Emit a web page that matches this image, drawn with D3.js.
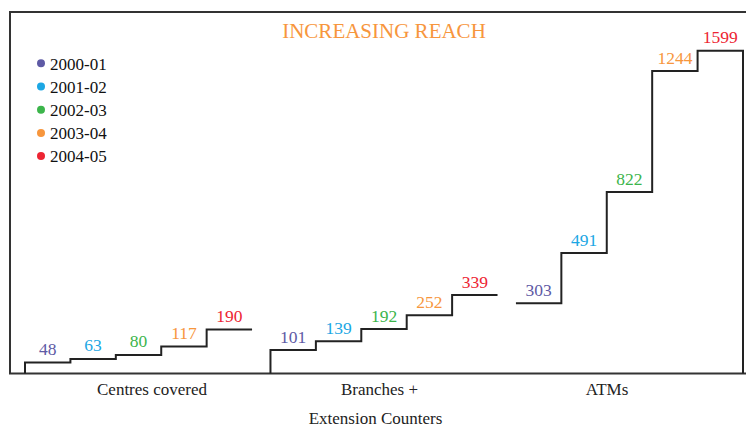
<!DOCTYPE html>
<html>
<head>
<meta charset="utf-8">
<script src="https://cdn.jsdelivr.net/npm/d3@7"></script>
<style>
  html, body { margin: 0; padding: 0; background: #fff; }
  svg { display: block; }
  text { font-family: "Liberation Serif", "DejaVu Serif", serif; }
</style>
</head>
<body>
<svg id="chart" width="746" height="427" font-family="Liberation Serif, DejaVu Serif, serif"></svg>
<script>
// ---- data ----
const title = "INCREASING REACH";
const years = ["2000-01", "2001-02", "2002-03", "2003-04", "2004-05"];
const categories = ["Centres covered", "Branches +|Extension Counters", "ATMs"];
const centres = [48, 63, 80, 117, 190];
const branches = [101, 139, 192, 252, 339];
const atms = [303, 491, 822, 1244, 1599];
const seriesByCategory = [centres, branches, atms];
// y-scale knots (the value axis is not uniform)
const yKnots = [0, 339, 491, 822, 1244, 1599];

// ---- styles ----
const yearColors = ["#5e5aa5", "#1ca7e4", "#3cb54b", "#f7963d", "#ed2533"];
const W = 746, H = 427;
const baseY = 373.5;

const svg = d3.select("#chart");

const yearColor = d3.scaleOrdinal().domain(years).range(yearColors);

const xGroup = d3.scaleBand().domain(categories).range([25, 743]).paddingInner(0.075);
const xStep = d3.scaleBand().domain(years).range([0, xGroup.bandwidth()]);
const y = d3.scaleLinear().domain(yKnots).range([baseY, 295, 253, 192, 71, 50.7]);
const xLabel = d3.scalePoint().domain(categories).range([152, 607]);

// frame
svg.append("path")
  .attr("d", `M${W},12 L10,12 L10,${baseY} L${W},${baseY}`)
  .attr("fill", "none")
  .attr("stroke", "#333")
  .attr("stroke-width", 2);

// title
svg.append("text")
  .attr("x", 384).attr("y", 38)
  .attr("text-anchor", "middle")
  .attr("font-size", 21)
  .attr("fill", "#f7963d")
  .text(title);

// legend
const leg = svg.append("g");
years.forEach((yr, i) => {
  const cy = 63.3 + i * 23.2;
  leg.append("circle").attr("cx", 41).attr("cy", cy).attr("r", 4).attr("fill", yearColor(yr));
  leg.append("text").attr("x", 50).attr("y", cy + 6.3)
    .attr("font-size", 17).attr("fill", "#111").text(yr);
});

// step lines
categories.forEach((cat, ci) => {
  const vals = seriesByCategory[ci];
  const x0 = xGroup(cat);
  const p = d3.path();
  const last = ci === categories.length - 1;
  if (!last) { p.moveTo(x0, baseY); p.lineTo(x0 + xStep(years[0]), y(vals[0])); }
  else { p.moveTo(x0 + xStep(years[0]), y(vals[0])); }
  years.forEach((yr, i) => {
    const xs = x0 + xStep(yr);
    if (i > 0) p.lineTo(xs, y(vals[i]));
    p.lineTo(xs + xStep.bandwidth(), y(vals[i]));
  });
  if (last) p.lineTo(x0 + xStep(years[years.length - 1]) + xStep.bandwidth(), baseY);
  svg.append("path").attr("d", p.toString())
    .attr("fill", "none").attr("stroke", "#222").attr("stroke-width", 2);

  // value labels
  svg.append("g").selectAll("text").data(vals).join("text")
    .attr("x", (d, i) => x0 + xStep(years[i]) + xStep.bandwidth() / 2)
    .attr("y", d => y(d) - 7.5)
    .attr("text-anchor", "middle")
    .attr("font-size", 17.5)
    .attr("fill", (d, i) => yearColor(years[i]))
    .text(d => d);

  // category labels
  const t = svg.append("text")
    .attr("x", xLabel(cat)).attr("y", 395)
    .attr("text-anchor", "middle")
    .attr("font-size", 17)
    .attr("fill", "#222");
  cat.split("|").forEach((line, li) => {
    t.append("tspan").attr("x", xLabel(cat) - li * 4).attr("dy", li === 0 ? 0 : 28.5).text(line);
  });
});
</script>
</body>
</html>
